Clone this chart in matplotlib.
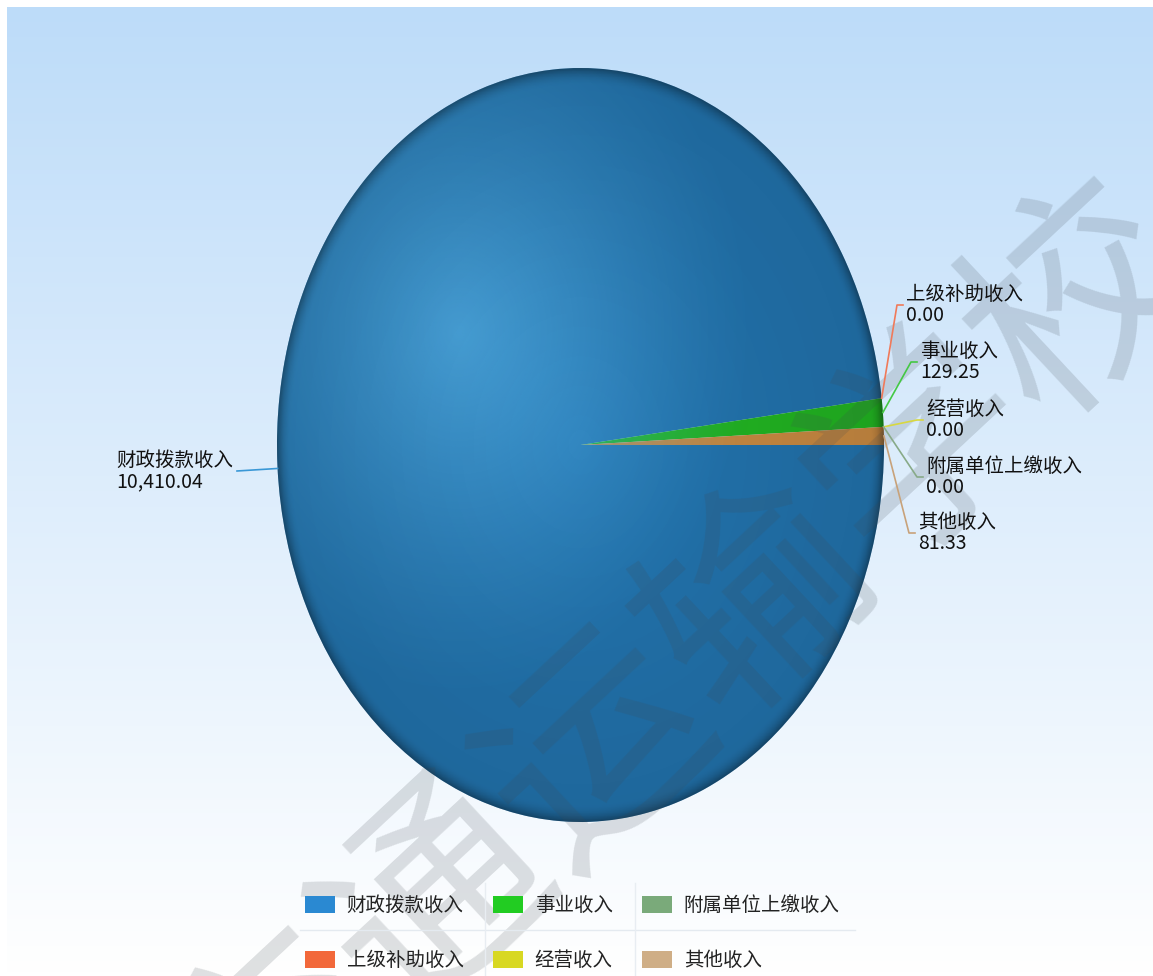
import numpy as np
import matplotlib
matplotlib.use("Agg")
import matplotlib.pyplot as plt
from matplotlib.patches import Circle, Patch

plt.rcParams["font.family"] = ["Noto Sans CJK SC", "DejaVu Sans"]

# data (order as in the source chart)
labels = ["财政拨款收入", "上级补助收入", "事业收入", "经营收入", "附属单位上缴收入", "其他收入"]
values = [10410.04, 0.00, 129.25, 0.00, 0.00, 81.33]

pie_colors = ["#2273ad", "#f26a3c", "#22b522", "#d6d61e", "#74a874", "#c98a42"]
legend_colors = ["#2a89d2", "#f2683a", "#22cc22", "#d8d822", "#7aaa7a", "#cfae86"]
line_colors = ["#3a98d6", "#f07a5a", "#44c844", "#d8d840", "#88aa88", "#c8a27a"]

# layout in pixels (figure is 1153 x 976, y measured from top)
W, H = 1153, 976
CX, CY, RX, RY = 580.5, 445.0, 303.5, 377.0
# elbow point of each leader line
elbows = [(237, 471), (897, 305), (911, 362), (917, 420), (917, 477), (909, 533)]

fig = plt.figure(figsize=(W / 100, H / 100), dpi=100)
fig.patch.set_facecolor("white")

# background gradient
bg = fig.add_axes([7 / W, 0, (W - 7) / W, (H - 7) / H])
top = np.array([189, 220, 249]) / 255
grad = np.linspace(0, 1, 256)[:, None, None]
bg.imshow(top * (1 - grad) + grad, aspect="auto", extent=[0, 1, 0, 1])
bg.axis("off")

# pie (stretched into an ellipse by the axes box)
ax = fig.add_axes([(CX - RX) / W, (H - CY - RY) / H, 2 * RX / W, 2 * RY / H])
wedges, _ = ax.pie(values, colors=pie_colors, startangle=0, counterclock=False,
                   radius=1, wedgeprops=dict(linewidth=0))
ax.set_aspect("auto")
ax.set_xlim(-1, 1)
ax.set_ylim(-1, 1)
ax.axis("off")

# shading: light spot upper left, darker rim
n = 500
xs = np.linspace(-1, 1, n)
X, Y = np.meshgrid(xs, xs[::-1])
R = np.hypot(X, Y)
D = np.hypot(X + 0.40, Y - 0.30)
light = np.zeros((n, n, 4))
light[..., :3] = np.array([80, 172, 228]) / 255
light[..., 3] = 0.85 * np.clip(1 - D / 1.0, 0, 1) ** 1.3
dark = np.zeros((n, n, 4))
dark[..., 3] = (0.10 * np.clip(R, 0, 1)
                + 0.30 * np.clip((R - 0.955) / 0.045, 0, 1) ** 2)
clip = Circle((0, 0), 1, transform=ax.transData)
for img in (light, dark):
    im = ax.imshow(img, extent=[-1, 1, -1, 1], aspect="auto", zorder=3)
    im.set_clip_path(clip)

# overlay in pixel coordinates for labels and watermark
ov = fig.add_axes([0, 0, 1, 1])
ov.set_xlim(0, W)
ov.set_ylim(H, 0)
ov.axis("off")

ov.text(680, 675, "交通运输学校", rotation=43, fontsize=158, color="#404850",
        alpha=0.17, ha="center", va="center", zorder=1)

# faint legend grid
ov.plot([300, 855], [930, 930], color="#e4eaf0", lw=1, zorder=1)
for gx in (485, 635):
    ov.plot([gx, gx], [883, 976], color="#e8edf2", lw=1, zorder=1)

for w, lab, val, col, (ex, ey) in zip(wedges, labels, values, line_colors, elbows):
    mid = np.deg2rad((w.theta1 + w.theta2) / 2)
    sx, sy = CX + RX * np.cos(mid), CY - RY * np.sin(mid)
    vtxt = f"{val:,.2f}"
    if ex < CX:
        ov.plot([sx, ex], [sy, ey], color=col, lw=1.2, zorder=2)
        ov.text(ex - 4, ey, lab + "\n" + vtxt, ha="right", va="center",
                multialignment="left", fontsize=14, color="#111111",
                linespacing=1.05, zorder=3)
    else:
        ov.plot([sx, ex, ex + 6], [sy, ey, ey], color=col, lw=1.2, zorder=2)
        ov.text(ex + 9, ey, lab + "\n" + vtxt, ha="left", va="center",
                fontsize=14, color="#111111", linespacing=1.05, zorder=3)

handles = [Patch(facecolor=c, edgecolor="none") for c in legend_colors]
fig.legend(handles, labels, ncol=3, loc="upper left",
           bbox_to_anchor=(305 / W, 1 - 895 / H), frameon=False, fontsize=14,
           handlelength=1.55, handleheight=1.0, handletextpad=0.6,
           columnspacing=1.5, labelspacing=1.76, borderpad=0, borderaxespad=0,
           labelcolor="#222222")

fig.savefig("out.png", dpi=100)
